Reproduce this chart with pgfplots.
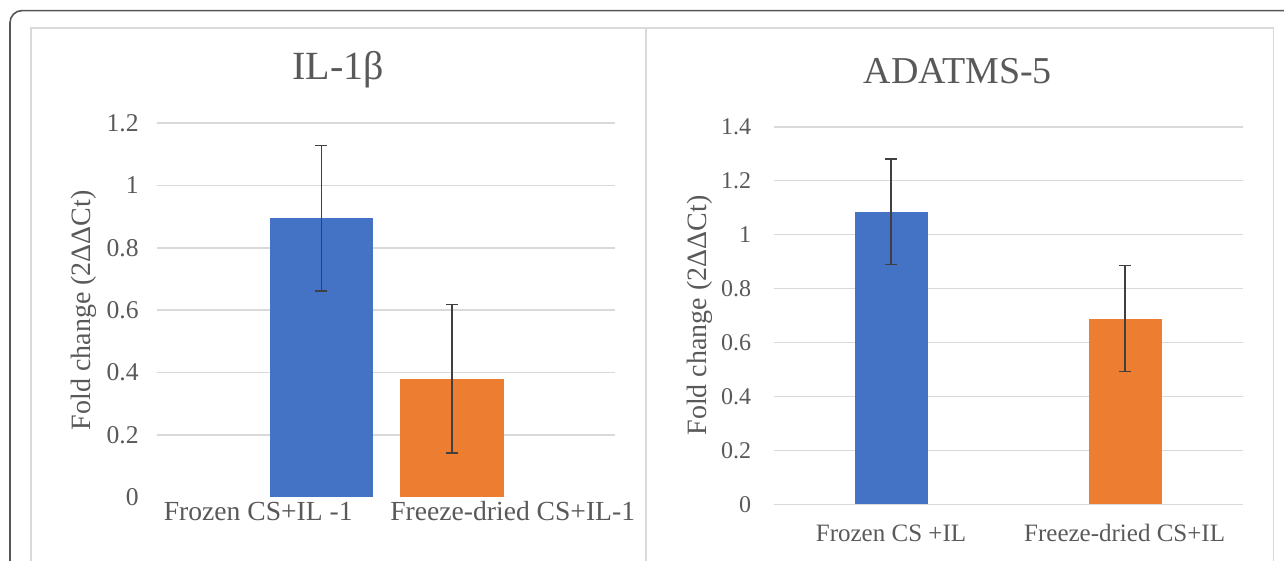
\documentclass[border=0pt]{standalone}
\usepackage{pgfplots}
\pgfplotsset{compat=1.18}
\usepackage{fontspec}
\setmainfont{Liberation Serif}
\definecolor{barblue}{HTML}{4472C4}
\definecolor{barorange}{HTML}{ED7D31}
\definecolor{gridgray}{HTML}{D9D9D9}
\definecolor{txtgray}{HTML}{595959}
\definecolor{errgray}{HTML}{404040}
\definecolor{framegray}{HTML}{555555}
\pgfplotsset{
  panel/.style={
    scale only axis,
    ybar, bar shift=0pt,
    axis line style={draw=none},
    tick style={draw=none},
    ymin=0,
    ymajorgrids,
    grid style={gridgray, line width=0.75pt},
    /pgf/number format/assume math mode=true,
    tick label style={font=\fontsize{12}{14}\selectfont, text=txtgray},
    yticklabel style={anchor=east, inner sep=0pt},
    xticklabel style={anchor=base, inner sep=0pt},
    every axis y label/.style={at={(axis description cs:0,0.5)}, rotate=90, anchor=center,
      font=\fontsize{14}{16}\selectfont, text=txtgray},
    every axis title/.style={anchor=base, font=\fontsize{19}{22}\selectfont, text=txtgray},
    error bars/y dir=both, error bars/y explicit,
    error bars/error bar style={line width=0.75pt, errgray},
    error bars/error mark options={rotate=90, mark size=3pt, line width=0.75pt, errgray},
  }
}
\begin{document}
\begin{tikzpicture}
\useasboundingbox (0,0) rectangle (642pt,280.5pt);
\clip (0,0) rectangle (642pt,280.5pt);
% outer rounded frame
\draw[framegray, line width=0.8pt, rounded corners=6pt] (5pt,-20pt) rectangle (680pt,275.2pt);
% inner chart frames
\draw[gridgray, line width=0.8pt] (15.5pt,-10pt) rectangle (636.7pt,266.5pt);
\draw[gridgray, line width=0.8pt] (322.9pt,-10pt) -- (322.9pt,266.5pt);

% ---------- Left panel: IL-1beta ----------
\begin{axis}[panel,
  at={(78.5pt,31.75pt)}, anchor=south west,
  width=228.5pt, height=187.25pt,
  xmin=157, xmax=614, ymax=1.2,
  bar width=103,
  xtick={258,512},
  xticklabels={Frozen CS+IL -1, Freeze-dried CS+IL-1},
  xticklabel style={yshift=-7.25pt, font=\fontsize{13.8}{15}\selectfont},
  ytick={0.2,0.4,0.6,0.8,1.0,1.2},
  yticklabels={0.2,0.4,0.6,0.8,1,1.2},
  extra y ticks={0}, extra y tick labels={0},
  extra y tick style={grid=none},
  yticklabel style={xshift=-9pt, font=\fontsize{12.8}{14}\selectfont},
  ylabel={Fold change (2ΔΔCt)},
  ylabel style={yshift=36.5pt},
  title={IL-1β},
  title style={at={(axis description cs:0.396,1)}, yshift=21.85pt, font=\fontsize{20}{22}\selectfont},
]
\addplot[fill=barblue, draw=none] coordinates {(321,0.895) +- (0,0.233)};
\addplot[fill=barorange, draw=none] coordinates {(451.4,0.381) +- (0,0.238)};
\end{axis}

% ---------- Right panel: ADATMS-5 ----------
\begin{axis}[panel,
  at={(386.75pt,28.35pt)}, anchor=south west,
  width=234.5pt, height=188.75pt,
  xmin=773.5, xmax=1242.5, ymax=1.4,
  bar width=73,
  xtick={891,1124.6},
  xticklabels={Frozen CS +IL, Freeze-dried CS+IL},
  xticklabel style={yshift=-14.4pt, font=\fontsize{12.5}{14}\selectfont},
  ytick={0,0.2,0.4,0.6,0.8,1.0,1.2,1.4},
  yticklabels={0,0.2,0.4,0.6,0.8,1,1.2,1.4},
  yticklabel style={xshift=-11pt},
  ylabel={Fold change (2ΔΔCt)},
  ylabel style={yshift=36.75pt},
  title={ADATMS-5},
  title style={at={(axis description cs:0.393,1)}, yshift=21.4pt},
]
\addplot[fill=barblue, draw=none] coordinates {(891,1.085) +- (0,0.196)};
\addplot[fill=barorange, draw=none] coordinates {(1125,0.689) +- (0,0.197)};
\end{axis}
\end{tikzpicture}
\end{document}
